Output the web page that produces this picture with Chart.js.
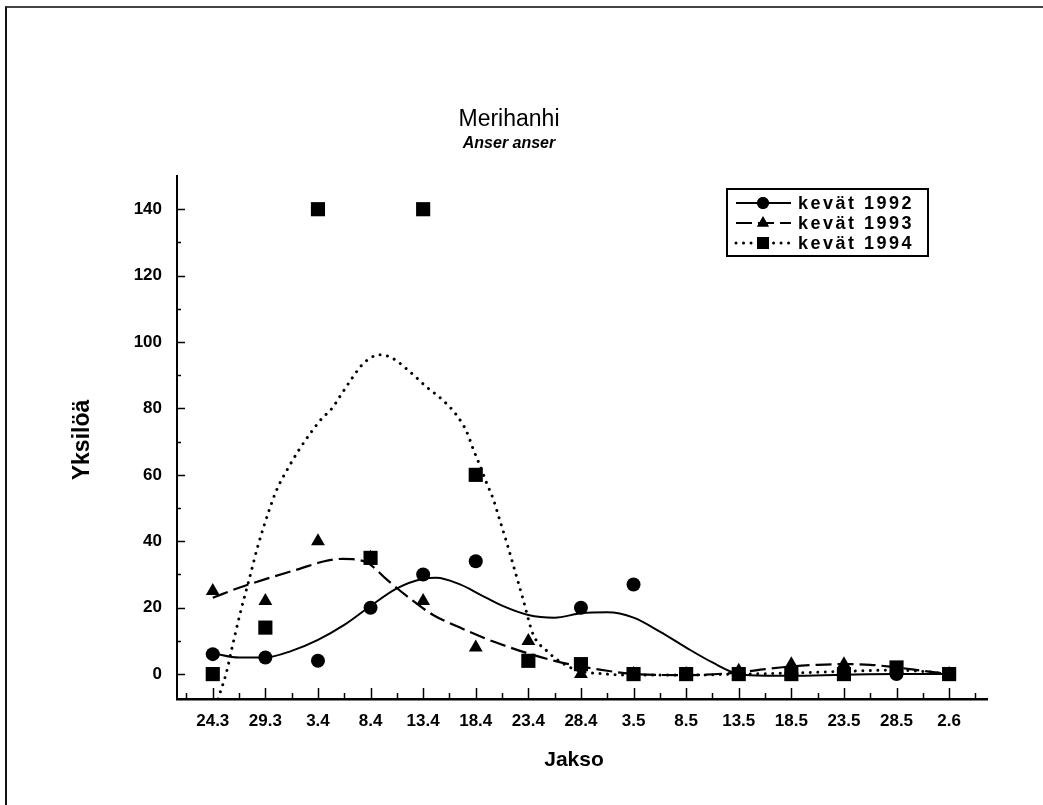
<!DOCTYPE html>
<html>
<head>
<meta charset="utf-8">
<script src="https://cdn.jsdelivr.net/npm/chart.js@4/dist/chart.umd.min.js"></script>
<style>
  html, body { margin: 0; padding: 0; background: #fff; }
  #wrap { position: relative; width: 1043px; height: 805px; overflow: hidden; }
  #frame { position: absolute; left: 5px; top: 6px; width: 1100px; height: 900px;
           border-left: 2px solid #111; border-top: 2px solid #444; }
  canvas { position: absolute; left: 0; top: 0; }
</style>
</head>
<body>
<div id="wrap">
  <div id="frame"></div>
  <canvas id="chart" width="1043" height="805"></canvas>
</div>
<script>
// categories (survey periods)
const periods = ["24.3", "29.3", "3.4", "8.4", "13.4", "18.4", "23.4", "28.4",
                 "3.5", "8.5", "13.5", "18.5", "23.5", "28.5", "2.6"];

// observed counts
const obs1992 = [6, 5, 4, 20, 30, 34, null, 20, 27, 0, 0, 0, 0, 0, 0];
const obs1993 = [25, 22, 40, 35, 22, 8, 10, 0, 0, 0, 1, 3, 3, null, 0];
const obs1994 = [0, 14, 140, 35, 140, 60, 4, 3, 0, 0, 0, 0, 0, 2, 0];

// smoothed curves (x in period steps)
const curve1992X = [0, 0.5, 1, 1.5, 2, 2.5, 3, 3.5, 4, 4.25, 4.7, 5.1, 5.5, 6, 6.5, 7, 7.5, 8, 8.5, 9, 9.5, 10, 10.5, 11, 12, 13, 14];
const curve1992Y = [6.3, 5, 5, 7, 10.3, 14.8, 20.5, 25.8, 28.7, 29, 27, 23.8, 20.6, 17.8, 17, 18.3, 18.6, 17, 12.8, 8, 3.5, 0, -0.5, -0.5, -0.2, 0, 0];
const curve1993X = [0, 0.5, 1, 1.65, 2.1, 2.47, 2.92, 3.3, 3.68, 4.19, 4.7, 5.2, 5.6, 6, 6.5, 7, 7.5, 8, 9, 10, 10.5, 11, 11.5, 12, 12.5, 13, 13.5, 14];
const curve1993Y = [23, 26, 28.6, 31.7, 33.9, 34.7, 33.7, 28.6, 23.6, 17.8, 14, 10.6, 8.3, 6.2, 4, 2.3, 1, 0, -0.3, 0.5, 1.5, 2.3, 2.8, 3, 2.8, 2, 1, 0];
const curve1994X = [0.1, 0.26, 0.36, 0.51, 0.7, 0.86, 1.08, 1.21, 1.46, 1.65, 1.85, 2.07, 2.26, 2.45, 2.64, 2.86, 3.18, 3.43, 3.75, 4.07, 4.38, 4.64, 4.83, 4.95, 5.08, 5.2, 5.33, 5.46, 5.6, 5.71, 5.9, 6.09, 6.35, 6.6, 6.92, 7.5, 8, 9, 10, 11, 12, 13, 13.5, 14];
const curve1994Y = [-7.5, 0.5, 7.5, 17.6, 29, 38.7, 49.7, 55.3, 62.8, 67.8, 72.4, 76.9, 79.9, 84.4, 88.9, 93.5, 96.2, 95, 91, 86.4, 82.4, 77.9, 72.9, 67.8, 62.8, 57.8, 52.8, 46.2, 39, 33, 22.5, 12, 7, 3.8, 1.2, 0, -0.3, -0.3, 0, 0.3, 0.8, 1.2, 0.8, 0];

const yTickValues = [0, 20, 40, 60, 80, 100, 120, 140];
const seriesLabels = ["kevät 1992", "kevät 1993", "kevät 1994"];

const FONT = "'Liberation Sans', Arial, sans-serif";

function pts(xs, ys) {
  return xs.map((x, i) => ({ x: x, y: ys[i] }));
}
function obsPts(vals) {
  return vals.map((v, i) => ({ x: i, y: v }));
}

const series = [
  { label: seriesLabels[0], obs: obs1992, cx: curve1992X, cy: curve1992Y, style: "circle", radius: 7, dash: [], width: 2, cap: "butt" },
  { label: seriesLabels[1], obs: obs1993, cx: curve1993X, cy: curve1993Y, style: "triangle", radius: 8, dash: [16, 6], width: 2.2, cap: "butt" },
  { label: seriesLabels[2], obs: obs1994, cx: curve1994X, cy: curve1994Y, style: "rect", radius: 10, dash: [0.01, 7.5], width: 3, cap: "round" },
];

const datasets = [];
series.forEach((s) => {
  datasets.push({
    label: s.label + " käyrä",
    data: pts(s.cx, s.cy),
    borderColor: "#000",
    borderWidth: s.width,
    borderDash: s.dash,
    borderCapStyle: s.cap,
    pointRadius: 0,
    cubicInterpolationMode: "monotone",
    fill: false,
    order: 2,
  });
  datasets.push({
    label: s.label,
    data: obsPts(s.obs),
    showLine: false,
    pointStyle: s.style,
    pointRadius: s.radius,
    pointBackgroundColor: "#000",
    pointBorderWidth: 0,
    order: 1,
  });
});

// inward tick marks and custom texts
const decor = {
  id: "decor",
  afterDraw(chart) {
    const ctx = chart.ctx;
    const xs = chart.scales.x, ys = chart.scales.y;
    const x0 = xs.left, y0 = ys.bottom;
    ctx.save();
    ctx.strokeStyle = "#000";
    ctx.lineWidth = 1.5;
    ctx.setLineDash([]);
    // y ticks
    for (let v = 0; v <= 140; v += 10) {
      const py = Math.round(ys.getPixelForValue(v)) + 0.5;
      const len = v % 20 === 0 ? 8 : 4;
      ctx.beginPath(); ctx.moveTo(x0, py); ctx.lineTo(x0 + len, py); ctx.stroke();
    }
    // x ticks
    for (let i = -1; i <= 29; i++) {
      const v = i / 2;
      const px = Math.round(xs.getPixelForValue(v)) + 0.5;
      const len = i % 2 === 0 ? 11 : 6;
      ctx.beginPath(); ctx.moveTo(px, y0); ctx.lineTo(px, y0 - len); ctx.stroke();
    }

    // titles
    ctx.fillStyle = "#000";
    ctx.textAlign = "center";
    ctx.textBaseline = "middle";
    ctx.font = "23px " + FONT;
    ctx.fillText("Merihanhi", 509, 120);
    ctx.font = "italic bold 16px " + FONT;
    ctx.fillText("Anser anser", 509, 144);
    ctx.font = "bold 21px " + FONT;
    ctx.fillText("Jakso", 574, 760);
    ctx.save();
    ctx.translate(83, 440);
    ctx.rotate(-Math.PI / 2);
    ctx.font = "bold 23px " + FONT;
    ctx.fillText("Yksilöä", 0, 0);
    ctx.restore();

    // legend
    const bx = 727, by = 189, bw = 201, bh = 67;
    ctx.lineWidth = 2;
    ctx.strokeRect(bx, by, bw, bh);
    series.forEach((s, i) => {
      const ry = by + 14 + i * 20;
      ctx.lineWidth = s.width;
      ctx.lineCap = s.cap;
      ctx.setLineDash(s.dash);
      ctx.beginPath(); ctx.moveTo(bx + 9, ry); ctx.lineTo(bx + 64, ry); ctx.stroke();
      ctx.setLineDash([]);
      ctx.lineCap = "butt";
      Chart.helpers.drawPoint(ctx, { pointStyle: s.style, radius: s.radius * 0.85, rotation: 0, borderWidth: 0 }, bx + 36, ry);
      ctx.fill();
      ctx.textAlign = "left";
      ctx.font = "bold 18px " + FONT;
      ctx.letterSpacing = "2.5px";
      ctx.fillText(s.label, bx + 71, ry + 1);
      ctx.letterSpacing = "0px";
    });
    ctx.restore();
  },
};

new Chart(document.getElementById("chart"), {
  type: "line",
  data: { datasets: datasets },
  options: {
    responsive: false,
    animation: false,
    layout: { padding: { left: 0, top: 176, right: 56, bottom: 0 } },
    plugins: { legend: { display: false }, title: { display: false }, tooltip: { enabled: false } },
    scales: {
      x: {
        type: "linear",
        min: -0.68,
        max: 14.72,
        afterFit(scale) { scale.height = 106; },
        afterBuildTicks(scale) { scale.ticks = periods.map((p, i) => ({ value: i })); },
        grid: { display: false, drawTicks: false },
        border: { display: true, color: "#000", width: 2.5 },
        ticks: {
          padding: 12,
          color: "#000",
          font: { family: FONT, size: 17, weight: "bold" },
          maxRotation: 0,
          autoSkip: false,
          callback: (v) => periods[v],
        },
      },
      y: {
        type: "linear",
        min: -7.5,
        max: 150,
        afterFit(scale) { scale.width = 177; },
        afterBuildTicks(scale) { scale.ticks = yTickValues.map((v) => ({ value: v })); },
        grid: { display: false, drawTicks: false },
        border: { display: true, color: "#000", width: 2 },
        ticks: {
          padding: 15,
          color: "#000",
          font: { family: FONT, size: 17, weight: "bold" },
        },
      },
    },
  },
  plugins: [decor],
});
</script>
</body>
</html>
